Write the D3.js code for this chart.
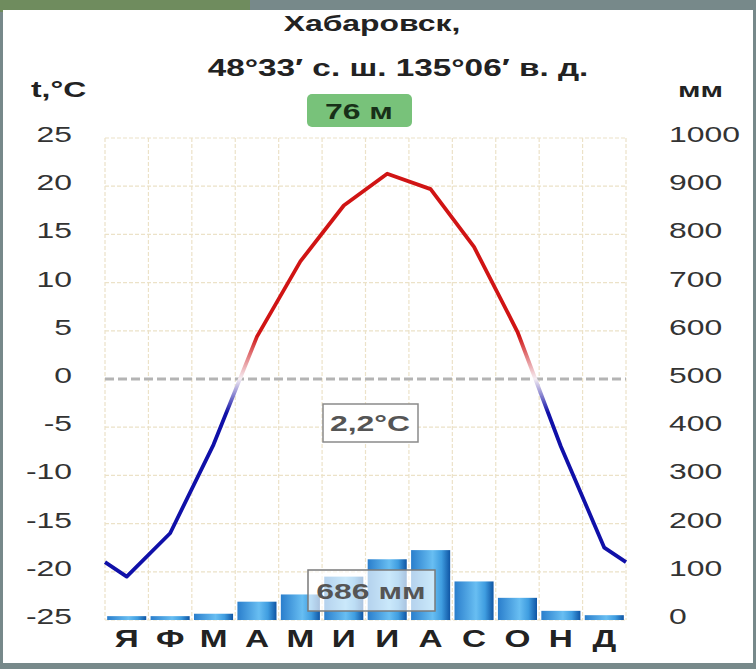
<!DOCTYPE html>
<html>
<head>
<meta charset="utf-8">
<script src="https://cdn.jsdelivr.net/npm/d3@7"></script>
<style>
  body { margin: 0; background: #77898a; }
  svg { display: block; font-family: "Liberation Sans", Arial, sans-serif; }
</style>
</head>
<body>
<div id="chart"></div>
<script>
// climate data, Khabarovsk
const months = ['Я', 'Ф', 'М', 'А', 'М', 'И', 'И', 'А', 'С', 'О', 'Н', 'Д'];
const temps = [-20.5, -16.0, -6.8, 4.4, 12.2, 18.0, 21.3, 19.7, 13.7, 4.9, -7.0, -17.5];
const precip = [8, 8, 13, 38, 53, 90, 126, 145, 80, 46, 19, 10];
const tempTicks = d3.range(-25, 26, 5);
const precipTicks = d3.range(0, 1001, 100);

const W = 756, H = 669;
const plot = { left: 105, right: 626, top: 138, bottom: 620 };
const SX = 1.45; // the source picture is stretched sideways

const svg = d3.select('#chart').append('svg').attr('width', W).attr('height', H);

// photo backdrop + white card
svg.append('rect').attr('width', W).attr('height', H).attr('fill', '#77898a');
svg.append('rect').attr('x', 0).attr('y', 0).attr('width', 250).attr('height', 12).attr('fill', '#6f8c5e');
svg.append('rect').attr('x', 3).attr('y', 10).attr('width', 750).attr('height', 653).attr('fill', '#fff');

const x = d3.scaleBand().domain(d3.range(12)).range([plot.left, plot.right]).paddingInner(0.1).paddingOuter(0.05);
const xl = d3.scaleLinear().domain([-0.5, 11.5]).range([plot.left, plot.right]);
const yT = d3.scaleLinear().domain([-25, 25]).range([plot.bottom, plot.top]);
const yP = d3.scaleLinear().domain([0, 1000]).range([plot.bottom, plot.top]);

const defs = svg.append('defs');
const bg = defs.append('linearGradient').attr('id', 'barGrad');
[['0%', '#2a7ecc'], ['55%', '#68bef2'], ['78%', '#3f9de0'], ['100%', '#0f55a4']]
  .forEach(s => bg.append('stop').attr('offset', s[0]).attr('stop-color', s[1]));

const lg = defs.append('linearGradient').attr('id', 'lineGrad')
  .attr('gradientUnits', 'userSpaceOnUse')
  .attr('x1', 0).attr('x2', 0).attr('y1', yT(4.5)).attr('y2', yT(-3.5));
[['0', '#d01414'], ['0.56', '#f6eef4'], ['1', '#1010a8']]
  .forEach(s => lg.append('stop').attr('offset', s[0]).attr('stop-color', s[1]));

// stretched text helper
function label(g, tx, ty, str, opts) {
  return g.append('text')
    .attr('transform', `translate(${tx},${ty}) scale(${SX},1)`)
    .attr('text-anchor', opts.anchor || 'middle')
    .attr('font-size', opts.size || 22)
    .attr('font-weight', opts.weight || 'normal')
    .attr('fill', opts.fill || '#333')
    .text(str);
}

// grid
const grid = svg.append('g').attr('stroke', '#ece2c8').attr('stroke-width', 1.2).attr('stroke-dasharray', '4,2');
grid.selectAll('line.v').data(d3.range(-0.5, 12, 1)).enter().append('line')
  .attr('x1', d => xl(d)).attr('x2', d => xl(d)).attr('y1', plot.top).attr('y2', plot.bottom);
grid.selectAll('line.h').data(tempTicks.filter(d => d !== 0)).enter().append('line')
  .attr('x1', plot.left).attr('x2', plot.right).attr('y1', d => yT(d)).attr('y2', d => yT(d));

// precipitation bars
svg.append('g').selectAll('rect').data(precip).enter().append('rect')
  .attr('x', (d, i) => x(i))
  .attr('width', x.bandwidth())
  .attr('y', d => yP(d))
  .attr('height', d => yP(0) - yP(d))
  .attr('fill', 'url(#barGrad)');

// zero line
svg.append('line')
  .attr('x1', plot.left).attr('x2', plot.right).attr('y1', yT(0)).attr('y2', yT(0))
  .attr('stroke', '#b4b4b4').attr('stroke-width', 3).attr('stroke-dasharray', '9,4');

// temperature line, wrapped to the plot edges
const wrap = (temps[11] + temps[0]) / 2;
const pts = [[-0.5, wrap]].concat(temps.map((t, i) => [i, t]), [[11.5, wrap]]);
svg.append('path').datum(pts)
  .attr('d', d3.line().x(d => xl(d[0])).y(d => yT(d[1])))
  .attr('fill', 'none').attr('stroke', 'url(#lineGrad)').attr('stroke-width', 3.8)
  .attr('stroke-linejoin', 'round');

// axes labels
const axL = svg.append('g');
tempTicks.forEach(d => label(axL, 72, yT(d) + 4, d, { anchor: 'end', size: 22 }));
const axR = svg.append('g');
precipTicks.forEach(d => label(axR, 669, yP(d) + 4, d, { anchor: 'start', size: 22 }));

const axB = svg.append('g');
months.forEach((m, i) => label(axB, x(i) + x.bandwidth() / 2, 647, m,
  { size: 23, weight: 'bold', fill: '#222' }));

// titles
const tt = svg.append('g');
label(tt, 372, 31, 'Хабаровск,', { size: 22, weight: 'bold', fill: '#222' });
label(tt, 398, 76, '48°33′ с. ш. 135°06′ в. д.', { size: 23, weight: 'bold', fill: '#222' });
label(tt, 31, 97, 't,°C', { anchor: 'start', size: 22, weight: 'bold', fill: '#222' });
label(tt, 678, 97, 'мм', { anchor: 'start', size: 21, weight: 'bold', fill: '#222' });

// height badge
svg.append('rect').attr('x', 307).attr('y', 94).attr('width', 105).attr('height', 33).attr('rx', 5)
  .attr('fill', '#78c27a');
label(svg, 359, 119, '76 м', { size: 22, weight: 'bold', fill: '#183018' });

// mean temperature box
svg.append('rect').attr('x', 323).attr('y', 404).attr('width', 95).attr('height', 38)
  .attr('fill', '#fff').attr('stroke', '#8a8a8a').attr('stroke-width', 1.5);
label(svg, 370, 431, '2,2°C', { size: 22, weight: 'bold', fill: '#555' });

// annual precipitation box
svg.append('rect').attr('x', 308).attr('y', 570).attr('width', 127).attr('height', 41)
  .attr('fill', 'rgba(255,255,255,0.65)').attr('stroke', '#7a7a7a').attr('stroke-width', 1.5);
label(svg, 371, 599, '686 мм', { size: 22, weight: 'bold', fill: '#555' });
</script>
</body>
</html>
